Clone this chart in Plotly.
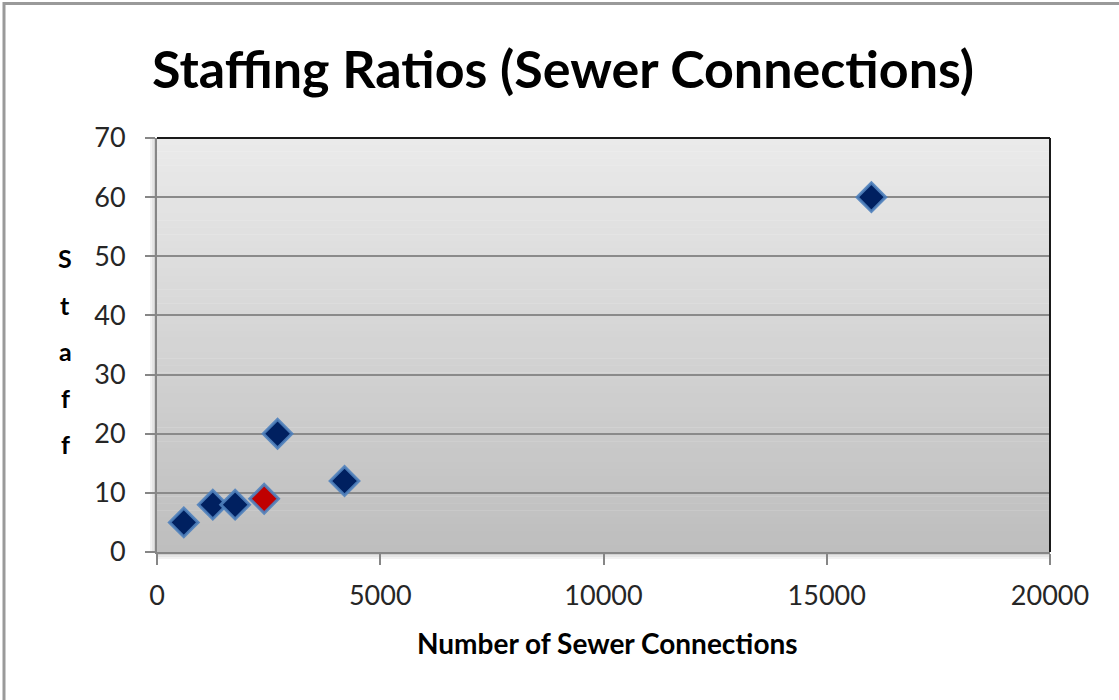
import plotly.graph_objects as go

# Sewer connections vs. staff
connections = [600, 1250, 1750, 2700, 4200, 16000]
staff = [5, 8, 8, 20, 12, 60]
highlight_connections = [2400]
highlight_staff = [9]

x_ticks = [0, 5000, 10000, 15000, 20000]
y_ticks = [0, 10, 20, 30, 40, 50, 60, 70]

W, H = 1119, 700
ML, MR, MT, MB = 157, 69, 138, 148
PW, PH = W - ML - MR, H - MT - MB


def px_x(px):
    return (px - ML) / PW


def px_y(py):
    return (H - MB - py) / PH


fig = go.Figure()

marker_line = dict(color="rgba(79,129,189,0.9)", width=3)
fig.add_trace(go.Scatter(
    x=connections, y=staff, mode="markers",
    marker=dict(symbol="diamond", size=22, color="#002060", line=marker_line),
    showlegend=False, hoverinfo="x+y",
))
fig.add_trace(go.Scatter(
    x=highlight_connections, y=highlight_staff, mode="markers",
    marker=dict(symbol="diamond", size=22, color="#c00000", line=marker_line),
    showlegend=False, hoverinfo="x+y",
))

shapes = []
# vertical gradient for the plotting area
n_bands = 60
top_c, bot_c = (234, 234, 234), (190, 190, 190)
for i in range(n_bands):
    t = i / (n_bands - 1)
    c = tuple(round(top_c[k] + (bot_c[k] - top_c[k]) * t) for k in range(3))
    shapes.append(dict(
        type="rect", xref="x domain", yref="y domain",
        x0=0, x1=1, y0=1 - (i + 1) / n_bands, y1=1 - i / n_bands + 0.001,
        fillcolor="rgb(%d,%d,%d)" % c, line=dict(width=0), layer="below",
    ))
# soft shadow along the bottom and left of the plotting area
for k, a in enumerate([0.18, 0.10, 0.05]):
    shapes.append(dict(
        type="line", xref="paper", yref="paper",
        x0=px_x(ML), x1=1, y0=px_y(H - MB + 2 + 2 * k), y1=px_y(H - MB + 2 + 2 * k),
        line=dict(color="rgba(0,0,0,%.2f)" % a, width=2), layer="below",
    ))
    shapes.append(dict(
        type="line", xref="paper", yref="paper",
        x0=px_x(ML - 2 - 2 * k), x1=px_x(ML - 2 - 2 * k), y0=0, y1=1,
        line=dict(color="rgba(0,0,0,%.2f)" % a, width=2), layer="below",
    ))
# dark top and right edges of the plotting area
shapes.append(dict(type="line", xref="paper", yref="paper", x0=0, x1=1, y0=1, y1=1,
                   line=dict(color="#1a1a1a", width=2)))
shapes.append(dict(type="line", xref="paper", yref="paper", x0=1, x1=1, y0=0, y1=1,
                   line=dict(color="#1a1a1a", width=2)))
# chart frame (left and top)
shapes.append(dict(type="line", xref="paper", yref="paper",
                   x0=px_x(4), x1=px_x(4), y0=px_y(H), y1=px_y(2),
                   line=dict(color="#9a9a9a", width=3)))
shapes.append(dict(type="line", xref="paper", yref="paper",
                   x0=px_x(3), x1=px_x(W), y0=px_y(3.5), y1=px_y(3.5),
                   line=dict(color="#9a9a9a", width=3)))

label_font = "Lato, Carlito, sans-serif"
annotations = [dict(
    # split spans keep "ff" and "i" as separate glyphs
    text="<b>Staff</b><b>ing Ratios (Sewer Connections)</b>",
    xref="paper", yref="paper", x=px_x(563), y=px_y(68),
    xanchor="center", yanchor="middle", showarrow=False,
    font=dict(family=label_font, size=52, color="#000000"),
), dict(
    text="<b>Number of Sewer Connections</b>",
    xref="paper", yref="paper", x=px_x(607), y=px_y(643),
    xanchor="center", yanchor="middle", showarrow=False,
    font=dict(family=label_font, size=28, color="#000000"),
)]
for i, ch in enumerate("Staff"):
    annotations.append(dict(
        text="<b>%s</b>" % ch, xref="paper", yref="paper",
        x=px_x(65), y=px_y(258 + 46.5 * i),
        xanchor="center", yanchor="middle", showarrow=False,
        font=dict(family=label_font, size=25, color="#000000"),
    ))

axis_font = dict(family=label_font, size=27, color="#262626")
fig.update_layout(
    width=W, height=H,
    margin=dict(l=ML, r=MR, t=MT, b=MB, pad=0),
    paper_bgcolor="#ffffff",
    plot_bgcolor="rgba(0,0,0,0)",
    shapes=shapes,
    annotations=annotations,
    xaxis=dict(
        range=[0, 20000], tickvals=x_ticks, ticktext=[str(v) for v in x_ticks],
        showgrid=False, zeroline=False,
        showline=True, linecolor="#868686", linewidth=2,
        ticks="outside", ticklen=11, tickwidth=1.5, tickcolor="#868686",
        tickfont=axis_font, ticklabelstandoff=8,
    ),
    yaxis=dict(
        range=[0, 70], tickvals=y_ticks, ticktext=[str(v) for v in y_ticks],
        showgrid=True, gridcolor="#8a8a8a", gridwidth=1.5, zeroline=False,
        showline=True, linecolor="#868686", linewidth=2,
        ticks="outside", ticklen=10, tickwidth=1.5, tickcolor="#868686",
        tickfont=axis_font, ticklabelstandoff=14,
    ),
)

fig.write_html("out.html")
